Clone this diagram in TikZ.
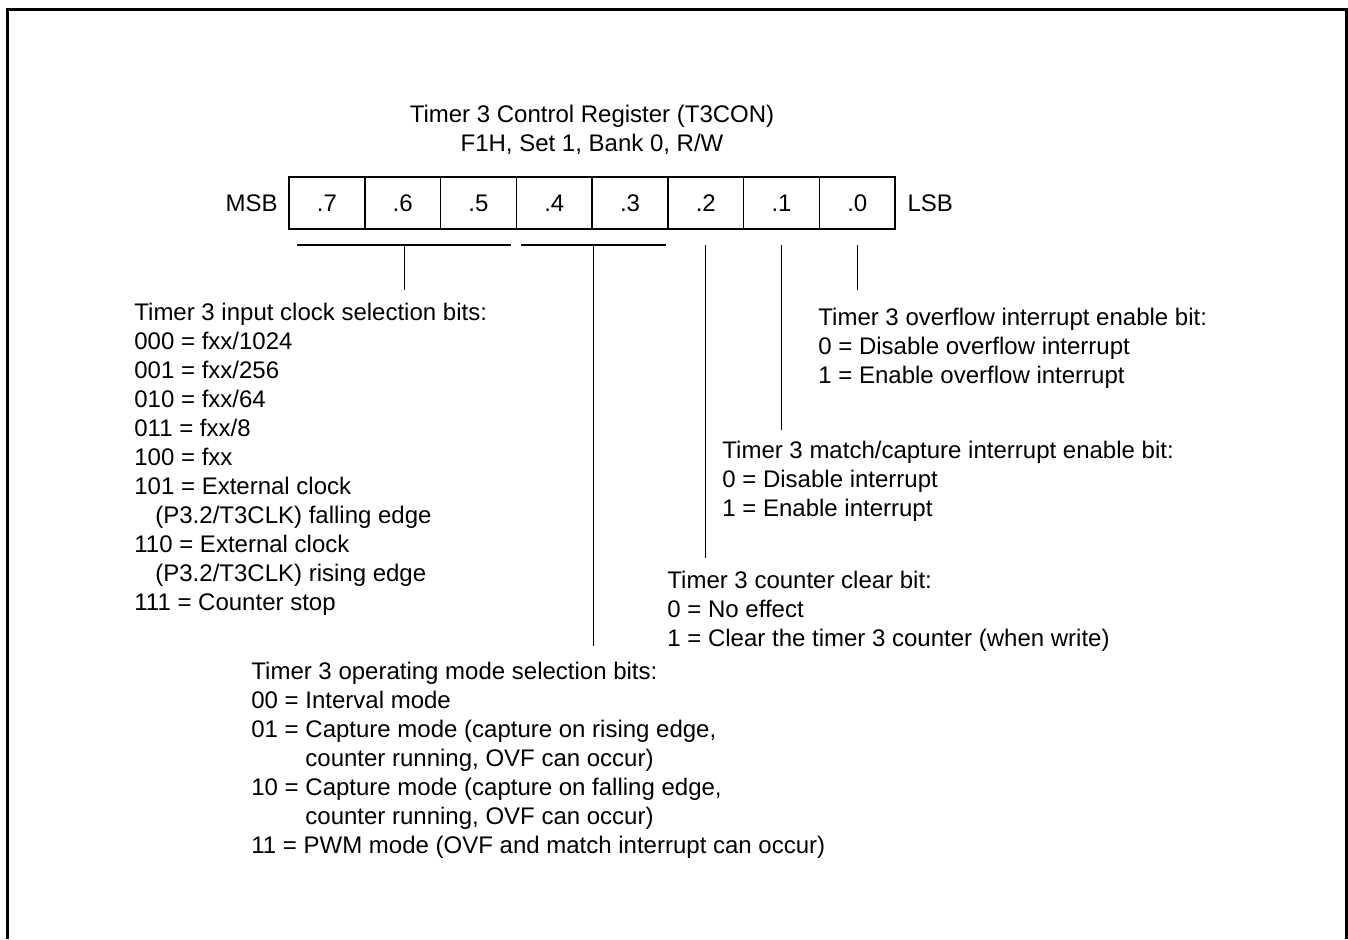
\documentclass[tikz,border=0pt]{standalone}
\usepackage{fontspec}
\setmainfont{Liberation Sans}
\usetikzlibrary{positioning,calc}
\tikzset{
reg/.style={rectangle,draw,line width=0.8pt,minimum width=37.875pt,minimum height=26pt,
  inner sep=0pt,outer sep=0pt,text height=8.6pt,text depth=0pt},
lbl/.style={inner sep=0pt,text height=8.6pt,text depth=0pt},
txt/.style={inner sep=0pt,align=left,anchor=base west},
ln/.style={line width=0.7pt},
}

\begin{document}
\begin{tikzpicture}[x=0.5pt,y=-0.5pt,font=\fontsize{12}{14.5}\selectfont]
	\useasboundingbox (0,0) rectangle (1348,939);
	\draw[line width=1.5pt] (7,939) -- (7,9) -- (1346,9) -- (1346,939);

	% base of a multi-line node = baseline of its last line
	\node[align=center,anchor=base,inner sep=0pt] (title) at (592,151)
		{Timer 3 Control Register (T3CON)\\F1H, Set 1, Bank 0, R/W};

	% register bits
	\node[reg] (b7) at (327,203) {.7};
	\node[reg,right=0pt of b7] (b6) {.6};
	\node[reg,right=0pt of b6] (b5) {.5};
	\node[reg,right=0pt of b5] (b4) {.4};
	\node[reg,right=0pt of b4] (b3) {.3};
	\node[reg,right=0pt of b3] (b2) {.2};
	\node[reg,right=0pt of b2] (b1) {.1};
	\node[reg,right=0pt of b1] (b0) {.0};
	\node[lbl,left=5.5pt of b7] (msb) {MSB};
	\node[lbl,right=6pt of b0] (lsb) {LSB};

	% bit descriptions
	\node[txt] (clk) at (134,610) {Timer 3 input clock selection bits:\\
		000 = fxx/1024\\
		001 = fxx/256\\
		010 = fxx/64\\
		011 = fxx/8\\
		100 = fxx\\
		101 = External clock\\
		\hspace*{10.5pt}(P3.2/T3CLK) falling edge\\
		110 = External clock\\
		\hspace*{10.5pt}(P3.2/T3CLK) rising edge\\
		111 = Counter stop};
	\node[txt] (mode) at (251,853) {Timer 3 operating mode selection bits:\\
		00 = Interval mode\\
		01 = Capture mode (capture on rising edge,\\
		\phantom{01 = }counter running, OVF can occur)\\
		10 = Capture mode (capture on falling edge,\\
		\phantom{10 = }counter running, OVF can occur)\\
		11 = PWM mode (OVF and match interrupt can occur)};
	\node[txt] (clr) at (667,646) {Timer 3 counter clear bit:\\
		0 = No effect\\
		1 = Clear the timer 3 counter (when write)};
	\node[txt] (mci) at (722,516) {Timer 3 match/capture interrupt enable bit:\\
		0 = Disable interrupt\\
		1 = Enable interrupt};
	\node[txt] (ovf) at (818,383) {Timer 3 overflow interrupt enable bit:\\
		0 = Disable overflow interrupt\\
		1 = Enable overflow interrupt};

	% brackets and leaders
	\coordinate (g1l) at ($(b7.south west)+(8,16)$);
	\coordinate (g1r) at ($(b5.south east)+(-5,16)$);
	\coordinate (g2l) at ($(b4.south west)+(5,16)$);
	\coordinate (g2r) at ($(b3.south east)+(-2,16)$);
	\coordinate (s1) at ($(g1l)!0.5!(g1r)$);
	\coordinate (s2) at ($(g2l)!0.5!(g2r)$);
	\coordinate (s3) at ($(b2.south)+(0,16)$);
	\coordinate (s4) at ($(b1.south)+(0,16)$);
	\coordinate (s5) at ($(b0.south)+(0,16)$);
	\draw[ln] (g1l) -- (g1r);
	\draw[ln] (g2l) -- (g2r);
	\draw[ln,shorten >=6.25pt] (s1) -- (s1 |- clk.north);
	\draw[ln,shorten >=7.75pt] (s2) -- (s2 |- mode.north);
	\draw[ln,shorten >=6.25pt] (s3) -- (s3 |- clr.north);
	\draw[ln,shorten >=5.25pt] (s4) -- (s4 |- mci.north);
	\draw[ln,shorten >=8.75pt] (s5) -- (s5 |- ovf.north);
\end{tikzpicture}
\end{document}
